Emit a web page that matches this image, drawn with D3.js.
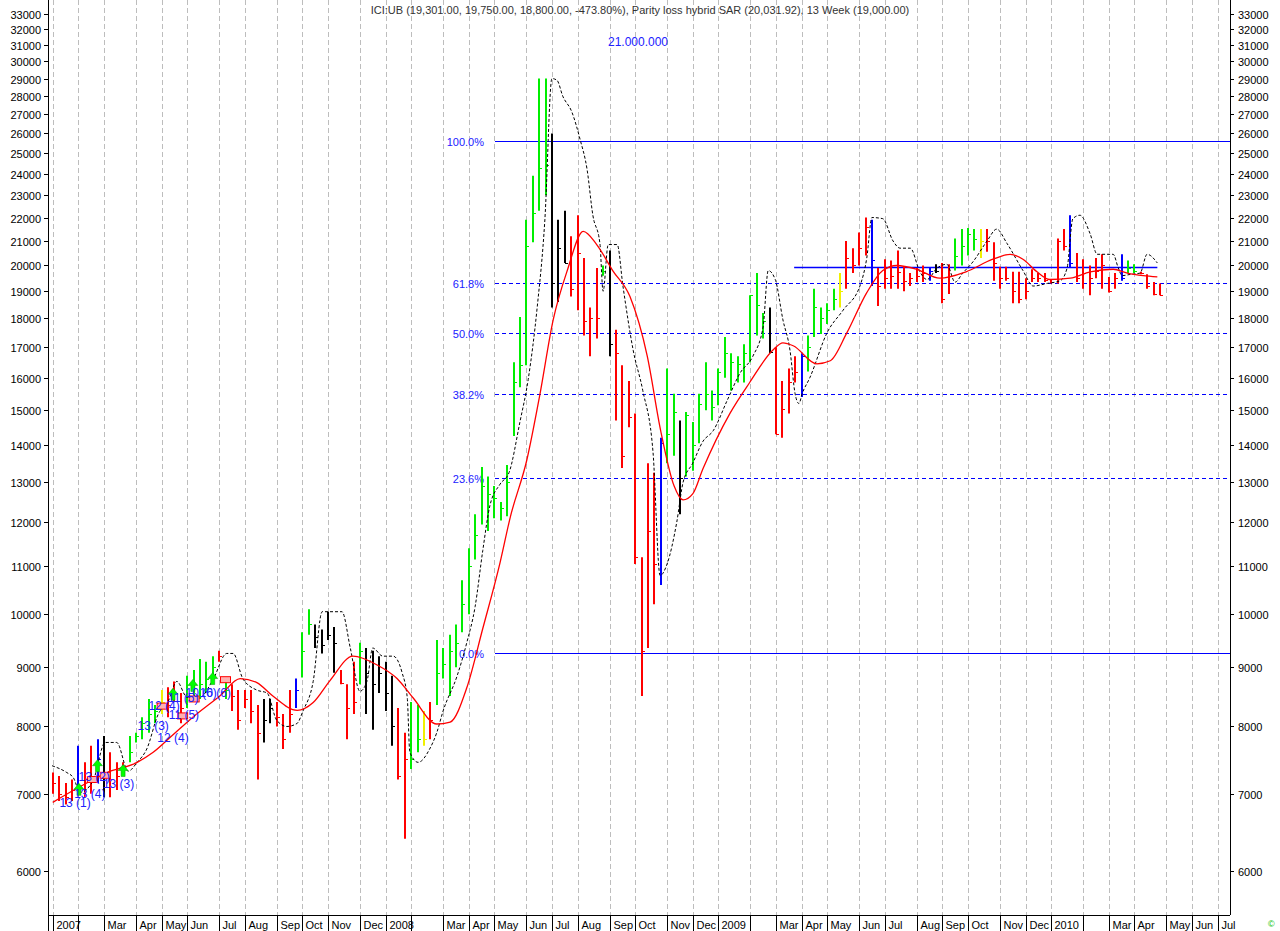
<!DOCTYPE html>
<html><head><meta charset="utf-8">
<script src="https://cdn.jsdelivr.net/npm/d3@7"></script>
<style>body{margin:0;background:#fff}svg{display:block;font-family:"Liberation Sans",Arial,sans-serif}</style>
</head><body><svg id="c" width="1280" height="931"></svg>
<script>
// ---- data (weekly bars from 2007-01-05) ----
const highs=[7300,7250,7150,7200,7700,7450,7700,7800,7850,7600,7450,7450,7850,7900,8150,8450,8350,8600,8650,8750,8550,8850,8950,9150,9100,9200,9300,8800,8700,8600,8600,8600,8350,8450,8450,8400,8200,8600,8800,
9650,10100,9800,9700,10050,9750,8950,8700,9100,9450,9350,9300,9200,9100,8850,8300,7900,8400,8350,8250,8400,9500,9350,9600,9800,10700,11400,12200,13400,13150,12900,12500,13450,
16500,18050,21900,23900,29000,29000,26000,21900,22300,21200,22100,20300,18400,19900,20000,20600,17600,16400,15900,14900,11200,13500,13250,14200,16300,15500,14700,14950,14650,15500,16500,15600,16300,17350,16800,16700,17100,18850,19700,18200,18400,17000,15900,16300,16700,
16800,17400,19100,18400,18550,19100,19700,21000,20700,21350,22000,21900,19900,20250,20200,20600,19950,19700,19900,20000,19900,20050,20100,20050,21100,21500,21550,21500,21500,21500,20950,19950,19950,19750,19750,19500,19850,19700,19700,19450,21100,21500,22100,20500,20250,20000,20300,20450,19550,19700,20450,20200,20050,19750,19650,19350,19300];
const lows=[7000,6900,6850,6900,7050,6950,7000,7150,6950,6950,7050,7250,7450,7750,7800,7900,8050,8200,8150,8400,8050,8300,8450,8450,8550,8850,9100,8450,8250,7950,8300,8050,7200,7750,8050,8000,7650,7900,8300,
8820,9600,9350,9250,9500,8900,8700,7800,8200,8700,8200,7950,8550,8250,7700,7200,6400,7350,7600,7700,7800,8350,8800,8500,9000,9650,10000,11150,11950,11800,12100,12050,12150,
14250,15700,16400,20950,22300,23000,18400,18600,20100,18800,18300,17400,16700,17300,19600,16700,14700,13370,14500,11050,8500,9350,10200,10600,13500,13700,12200,13150,13300,14050,15000,14700,15150,16000,15600,15850,15850,16500,17400,17300,16800,14300,14200,14900,15850,
15400,16200,17350,17450,17800,18300,18400,19100,19700,20000,20400,19200,18450,19100,19100,19100,19000,19200,19350,19350,19400,19700,18550,18900,19800,20000,20400,20600,20300,20550,19400,19100,19400,18550,18550,18700,19350,19350,19350,19300,19300,20600,19900,19350,19100,18850,19500,19100,18950,19100,19400,19700,19700,19650,19100,18850,18850];
const closes=[7150,7000,6950,7050,7100,7200,7250,7500,7300,7200,7250,7350,7600,7850,8050,8200,8250,8400,8350,8550,8300,8500,8700,8700,8800,9000,9200,8600,8500,8100,8450,8250,7900,8100,8300,8150,7800,8200,8600,
9300,9800,9550,9400,9600,9450,8720,8300,8400,9300,8900,8700,8900,8550,8000,7250,7500,7500,7800,7800,8100,8900,9050,9300,9450,10200,11000,11700,12900,12700,12600,12350,13000,
15850,16400,20800,22200,24300,24400,19300,20700,20100,19100,20500,17900,18000,18000,19800,17100,16800,13700,14800,11200,9300,11800,11050,14050,14300,14950,13100,14850,14000,15200,15500,15100,16200,16800,16500,16450,16800,18850,18500,17900,16850,14300,15050,15850,16200,
16700,17000,18400,18000,18300,18700,19000,20300,20000,20700,21600,20200,19200,19500,19600,19750,19400,19500,19600,19700,19800,19800,18700,19600,20400,20800,21300,21100,21000,21000,20100,19500,19500,19000,18700,19000,19500,19500,19450,19350,21000,20800,20100,19500,19700,19500,19800,20000,19000,19500,19500,19900,19800,19700,19200,18900,18850];
const barColors="rrrrbrrbkrrrgggggyrrrgggggrgrrrrrkkrrrbg"+"gkkkkrrrgkkkkkrrgg"+"yrggggggggggggg"+"gggggkkkrrrrrgkrrrrrrrbgg"+"kgggggggggggggkrrrr"+"bgggggyrrrrbrrrrrrrrbkrrggggyrrrrrrrrrrrrrbrrrrrrrbggrrrr";
const redMA=[[0,6880],[4.3,7100],[8.5,7300],[13.2,7450],[15.7,7600],[18.8,7870],[21.9,8150],[26.1,8500],[29.3,8800],[31.9,8730],[34.4,8500],[38.2,8260],[40.7,8390],[43.3,8760],[46.9,9200],[50.7,9040],[53.8,8800],[56.3,8470],[60,8040],[62.1,8070],[64.7,8640],[67.2,9720],[69.9,11080],[71.5,12130],[74.1,13600],[76.1,15450],[78.2,17950],[80.4,19800],[82.9,21400],[85,20850],[87.5,19800],[90.2,18800],[92.9,16700],[95,14400],[97.1,12900],[98.5,12550],[100,12700],[101.6,13350],[105.8,14900],[108.9,15850],[112.5,16900],[114.1,17150],[115.7,17050],[119.4,16450],[121.5,16550],[124.1,17500],[127.2,18950],[129.7,19800],[131.9,20000],[135,19850],[138.6,19500],[142.7,19750],[146.9,20250],[149.6,20450],[151.6,20250],[153.8,19750],[155.8,19450],[159,19500],[162.1,19750],[165.7,19850],[167.9,19700],[170.4,19600],[172.6,19550]];
const dashMA=[[-0.1,7400],[2.2,7300],[3.2,7230],[4.3,7020],[6.3,7180],[8.2,7750],[10,7750],[11.8,7320],[13.2,7450],[14.7,7650],[16.5,8200],[18,8400],[19.4,8750],[21,8480],[23,8480],[25,8770],[27.2,9250],[28.2,9250],[29.7,8800],[31.9,8600],[33.5,8550],[35,8100],[36.6,8000],[38.2,8050],[39.1,8250],[40.7,8750],[42.1,10050],[45.2,10050],[46.5,9350],[48,8580],[49.1,8750],[50,9350],[51.6,9200],[53.2,9200],[54.6,8900],[55.4,8470],[55.8,7600],[57.1,7450],[58.9,7650],[60,7900],[61,8250],[63.2,8850],[64.7,9450],[66,10150],[67.2,11350],[68.3,12400],[69.9,12950],[71.3,13250],[73,14650],[74.3,15950],[75.7,18400],[76.9,21900],[78,29000],[78.8,28900],[79.7,28000],[81.1,27150],[82.4,25700],[83.5,24200],[84.4,22100],[85.5,20900],[86,19000],[86.8,20850],[88.2,20850],[89.1,19200],[90.7,16900],[92.2,15600],[93.8,13800],[94.9,10800],[96,11050],[97.5,12000],[98.5,13000],[100,13500],[101.6,14100],[103.2,14400],[105.4,15300],[107.4,16150],[109.4,16700],[111,17700],[111.8,19800],[112.9,19450],[114.1,17950],[115.2,16900],[116,15500],[116.6,15200],[117.1,15500],[118.3,16000],[121,17500],[123.5,18300],[126.2,19250],[127.2,20300],[128,22000],[129.7,21950],[131.3,21000],[132.4,20700],[134,20700],[135.5,19750],[136.6,19450],[138.2,19900],[139.7,20050],[141,19350],[142.2,19700],[143.8,20150],[146,21000],[147.5,21500],[149.1,20900],[151.6,19800],[153.2,19200],[155.4,19300],[157.4,19400],[158.5,19900],[159.4,21950],[160.5,22100],[162.1,21300],[163.2,20450],[165.7,20450],[166.5,19900],[167.1,19600],[168.4,19650],[169.9,19700],[171,20450],[172.6,20100]];
const fibLabels=["100.0%","61.8%","50.0%","38.2%","23.6%","0.0%"];
const fibValues=[25600,19300,17480,15500,13100,9250];
const fibSolid=[true,false,false,false,false,true];
const resistance=[[117.1,19950],[172.6,19950]];
const yTicks=d3.range(6000,34000,1000);
const countLabels=[["13 (1)",3.5,6820],["13 (4)",5.8,6940],["13 (2)",6.5,7180],["13 (3)",10.3,7080],["13 (3)",15.7,7950],["12 (4)",18.8,7750],["12 (4)",17.4,8260],["11 (5)",20.5,8120],["11 (5)",20.4,8400],["10 (6)",23.2,8480],["10 (6)",25.4,8480]];
const upArrows=[[4.1,7060],[7,7400],[11,7330],[18.8,8530],[21.9,8680],[25,8800]];
const boxes=[[6.2,7200],[8.2,7260],[17.1,8330],[20.3,8170],[22.1,8450],[27,8780]];
const months=[];
// ---- chart ----
const svg=d3.select("#c");
const L=48,R=1230,B=915;
const x=d3.scaleLinear().domain([0,173]).range([52.7,1159.9]);
const y=d3.scaleLog().domain([5500,33900]).range([B,0]);
const start=new Date(2007,0,5);
let prevM=-1;
for(let i=0;i<=190;i++){const d=d3.timeWeek.offset(start,i);if(d.getMonth()!==prevM){prevM=d.getMonth();months.push({i,d});}}
const mfmt=d3.timeFormat("%b");
const g=svg.append("g");
months.forEach(m=>{const xx=Math.round(x(m.i))+0.5;if(xx>R)return;
 g.append("line").attr("x1",xx).attr("x2",xx).attr("y1",0).attr("y2",B).attr("stroke","#bdbdbd").attr("stroke-dasharray","5,3");
 g.append("line").attr("x1",xx).attr("x2",xx).attr("y1",B).attr("y2",931).attr("stroke","#000");
 const mo=m.d.getMonth(); if(mo===1)return;
 g.append("text").attr("x",xx+3).attr("y",929).attr("font-size",11).text(mo===0?m.d.getFullYear():mfmt(m.d));});
// frame
g.append("line").attr("x1",L+.5).attr("x2",L+.5).attr("y1",0).attr("y2",931).attr("stroke","#000");
g.append("line").attr("x1",R+.5).attr("x2",R+.5).attr("y1",0).attr("y2",B).attr("stroke","#000");
g.append("line").attr("x1",L).attr("x2",R).attr("y1",B+.5).attr("y2",B+.5).attr("stroke","#000");
yTicks.forEach(t=>{const yy=Math.round(y(t))+0.5;
 g.append("line").attr("x1",L-4).attr("x2",L).attr("y1",yy).attr("y2",yy).attr("stroke","#000");
 g.append("line").attr("x1",R).attr("x2",R+4).attr("y1",yy).attr("y2",yy).attr("stroke","#000");
 g.append("text").attr("x",L-7).attr("y",yy+4).attr("text-anchor","end").attr("font-size",11).text(t);
 g.append("text").attr("x",R+8).attr("y",yy+4).attr("font-size",11).text(t);});
// fib
fibValues.forEach((v,k)=>{const yy=Math.round(y(v))+0.5;
 const l=g.append("line").attr("x1",495).attr("x2",R).attr("y1",yy).attr("y2",yy).attr("stroke","#0000ff").attr("stroke-width",1.2).attr("shape-rendering","crispEdges");
 if(!fibSolid[k]) l.attr("stroke-dasharray","4,3");
 g.append("text").attr("x",484).attr("y",yy+4).attr("text-anchor","end").attr("font-size",11).attr("fill","#2020ff").text(fibLabels[k]);});
g.append("line").attr("x1",x(resistance[0][0])-8).attr("x2",x(resistance[1][0])).attr("y1",Math.round(y(resistance[0][1]))+.5).attr("y2",Math.round(y(resistance[1][1]))+.5).attr("stroke","#0000ff").attr("stroke-width",1.5);
// bars
const cmap={r:"#ff0000",g:"#00ee00",k:"#000000",b:"#0000ff",y:"#f0f000"};
highs.forEach((h,i)=>{const c=cmap[barColors[i]]||"#f00";const xx=Math.round(x(i));
 g.append("line").attr("x1",xx).attr("x2",xx).attr("y1",y(h)).attr("y2",y(lows[i])).attr("stroke",c).attr("stroke-width",2);
 g.append("line").attr("x1",xx).attr("x2",xx+3).attr("y1",Math.round(y(closes[i]))+0.5).attr("y2",Math.round(y(closes[i]))+0.5).attr("stroke",c);});
const ln=d3.line().x(d=>x(d[0])).y(d=>y(d[1])).curve(d3.curveMonotoneX);
g.append("path").attr("d",ln(dashMA)).attr("fill","none").attr("stroke","#000").attr("stroke-dasharray","3,2");
g.append("path").attr("d",ln(redMA)).attr("fill","none").attr("stroke","#ff0000").attr("stroke-width",1.3);
// annotations
boxes.forEach(b=>{g.append("rect").attr("x",x(b[0])-5).attr("y",y(b[1])-3).attr("width",10).attr("height",6).attr("fill","#ffb0b0").attr("stroke","#ff0000");});
upArrows.forEach(a=>{const ax=x(a[0]),ay=y(a[1]);
 g.append("path").attr("d",`M${ax-5},${ay}L${ax},${ay-6}L${ax+5},${ay}L${ax+2},${ay}L${ax+2},${ay+6}L${ax-2},${ay+6}L${ax-2},${ay}Z`).attr("fill","#00ff00").attr("stroke","#009900").attr("stroke-width",0.5);});
countLabels.forEach(c=>{g.append("text").attr("x",x(c[1])).attr("y",y(c[2])).attr("text-anchor","middle").attr("font-size",12).attr("fill","#2020ff").text(c[0]);});
// titles
svg.append("text").attr("x",640).attr("y",14).attr("text-anchor","middle").attr("font-size",11).attr("fill","#333").text("ICI:UB (19,301.00, 19,750.00, 18,800.00, -473.80%), Parity loss hybrid SAR (20,031.92), 13 Week (19,000.00)");
svg.append("text").attr("x",638).attr("y",46).attr("text-anchor","middle").attr("font-size",12).attr("fill","#2020ff").text("21.000.000");
svg.append("text").attr("x",1268).attr("y",927).attr("font-size",9).attr("fill","#00c000").text("©");
</script></body></html>
